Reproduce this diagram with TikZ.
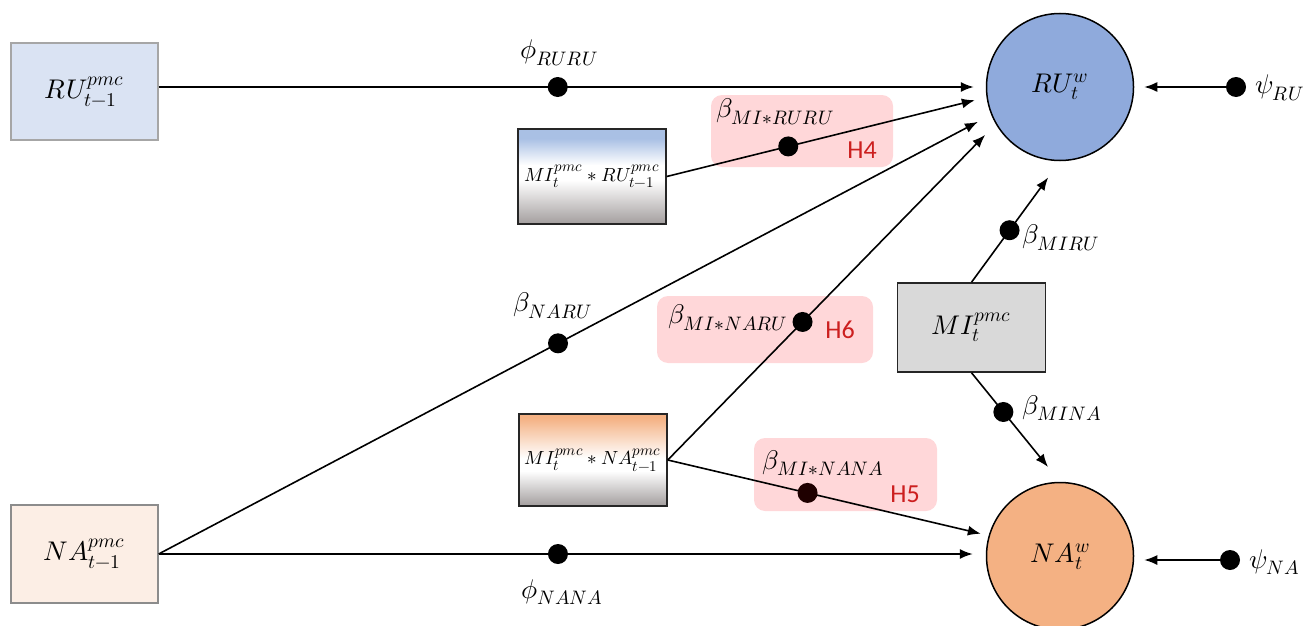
\documentclass[tikz,border=0pt]{standalone}
\usepackage{fontspec}
\usepackage{unicode-math}
\setmathfont{Latin Modern Math}
\newfontfamily\hfont{Carlito}
\DeclareMathSizes{27}{27}{19.5}{14}
\DeclareMathSizes{19}{19}{15}{11}
\usetikzlibrary{arrows.meta,calc}
\definecolor{rulight}{HTML}{DAE3F3}
\definecolor{nalight}{HTML}{FCEEE5}
\definecolor{ruwfill}{HTML}{8FAADC}
\definecolor{nawfill}{HTML}{F4B183}
\definecolor{mifill}{HTML}{D9D9D9}
\definecolor{pinkbg}{HTML}{FFD7D9}
\definecolor{hred}{HTML}{CC1F1F}
\definecolor{gradblue}{HTML}{A9C0E4}
\definecolor{gradorange}{HTML}{F4B183}
\definecolor{gradgray}{HTML}{A39E9E}
\definecolor{lightborder}{HTML}{A6A6A6}
\definecolor{midborder}{HTML}{8C8C8C}
\definecolor{darkborder}{HTML}{262626}
\pgfdeclareverticalshading{rushade}{100bp}{color(0bp)=(gradgray); color(25bp)=(gradgray); color(48bp)=(white); color(56bp)=(white); color(70bp)=(gradblue); color(100bp)=(gradblue)}
\pgfdeclareverticalshading{nashade}{100bp}{color(0bp)=(gradgray); color(25bp)=(gradgray); color(44bp)=(white); color(51bp)=(white); color(73bp)=(gradorange); color(100bp)=(gradorange)}
\begin{document}
\begin{tikzpicture}[x=1pt,y=-1pt,
  bigtxt/.style={font=\fontsize{27}{31}\selectfont},
  lbl/.style={font=\fontsize{27}{31}\selectfont, inner sep=0pt},
  htxt/.style={font=\hfont\fontsize{26}{30}\selectfont, text=hred, inner sep=0pt},
  lagbox/.style={draw, line width=1.3pt, minimum width=147pt, minimum height=97pt, inner sep=0pt, bigtxt},
  intbox/.style={draw=darkborder, line width=1.5pt, minimum width=148pt, inner sep=0pt, font=\fontsize{19}{22}\selectfont},
  outcirc/.style={circle, draw, line width=1.5pt, minimum size=147pt, inner sep=0pt, bigtxt},
  pinkbox/.style={fill=pinkbg, rounded corners=11pt, inner sep=0pt},
  dot/.style={circle, fill=black, inner sep=0pt, minimum size=20pt},
  arr/.style={line width=1.6pt, -{Latex[length=13pt,width=10pt]}}
]
\useasboundingbox (0,0) rectangle (1311,626);

% highlight boxes
\node[pinkbox, minimum width=182pt, minimum height=72pt] (h4box) at (802,131) {};
\node[pinkbox, minimum width=216pt, minimum height=67pt] (h6box) at (765,329.5) {};
\node[pinkbox, minimum width=183pt, minimum height=73pt] (h5box) at (845.5,474.5) {};

% nodes
\node[lagbox, draw=lightborder, fill=rulight] (rup) at (84.5,91.5) {$RU_{t-1}^{pmc}$};
\node[lagbox, draw=midborder, fill=nalight, minimum height=98pt] (nap) at (84.5,554) {$NA_{t-1}^{pmc}$};
\node[intbox, minimum height=95pt, shading=rushade] (miru) at (592,176.5) {$MI_t^{pmc}\ast RU_{t-1}^{pmc}$};
\node[intbox, minimum height=92pt, shading=nashade] (mina) at (593,460) {$MI_t^{pmc}\ast NA_{t-1}^{pmc}$};
\node[draw=darkborder, fill=mifill, line width=1.5pt, minimum width=148pt, minimum height=89pt, inner sep=0pt, bigtxt] (mi) at (971.5,327.5) {$MI_t^{pmc}$};
\node[outcirc, fill=ruwfill] (ruw) at (1060,87) {$RU_t^{w}$};
\node[outcirc, fill=nawfill] (naw) at (1060,556) {$NA_t^{w}$};
\node[dot] (psiru) at (1236,87) {};
\node[dot] (psina) at (1230,560) {};

% connectors
\draw[arr, shorten >=12pt] (rup.east |- ruw) -- node[dot, pos=0.4825] (d1) {} (ruw.west);
\draw[arr, shorten >=12pt] (miru.east) -- node[dot, pos=0.38] (d2) {} (ruw.188);
\draw[arr, shorten >=15pt] (nap.east) -- node[dot, pos=0.4797] (d3) {} (ruw.202);
\draw[arr, shorten >=15pt] (mina.east) -- node[dot, pos=0.411] (d4) {} (ruw.210);
\draw[arr, shorten >=8pt] (mina.east) -- node[dot, pos=0.4357, fill=black!88!red] (d5) {} (naw.164);
\draw[arr, shorten >=13pt] (nap.east) -- node[dot, pos=0.4828] (d6) {} (nap.east -| naw.west);
\draw[arr, shorten >=20pt] (mi.north) -- node[dot, pos=0.43] (d7) {} (ruw.south);
\draw[arr, shorten >=19pt] (mi.south) -- node[dot, pos=0.36] (d8) {} (naw.north);
\draw[arr, shorten >=10pt] (psiru) -- (ruw.east);
\draw[arr, shorten >=10pt] (psina) -- (psina -| naw.east);

% labels
\node[lbl] (l1) at (559,53) {$\phi_{RURU}$};
\node[lbl, anchor=west] (l2) at (716,112) {$\beta_{MI\ast RURU}$};
\node[htxt] (h4) at (862,150) {H4};
\node[lbl] (l3) at (553,306) {$\beta_{NARU}$};
\node[lbl, anchor=west] (l4) at (668,318) {$\beta_{MI\ast NARU}$};
\node[htxt] (h6) at (840,330) {H6};
\node[lbl, anchor=west] (l5) at (762,463) {$\beta_{MI\ast NANA}$};
\node[htxt] (h5) at (905,494) {H5};
\node[lbl] (l6) at (562,592) {$\phi_{NANA}$};
\node[lbl, anchor=west] (l7) at (1022,238) {$\beta_{MIRU}$};
\node[lbl, anchor=west] (l8) at (1022,408) {$\beta_{MINA}$};
\node[lbl, anchor=west] (l9) at (1255,88) {$\psi_{RU}$};
\node[lbl, anchor=west] (l10) at (1249,562) {$\psi_{NA}$};
\end{tikzpicture}
\end{document}
